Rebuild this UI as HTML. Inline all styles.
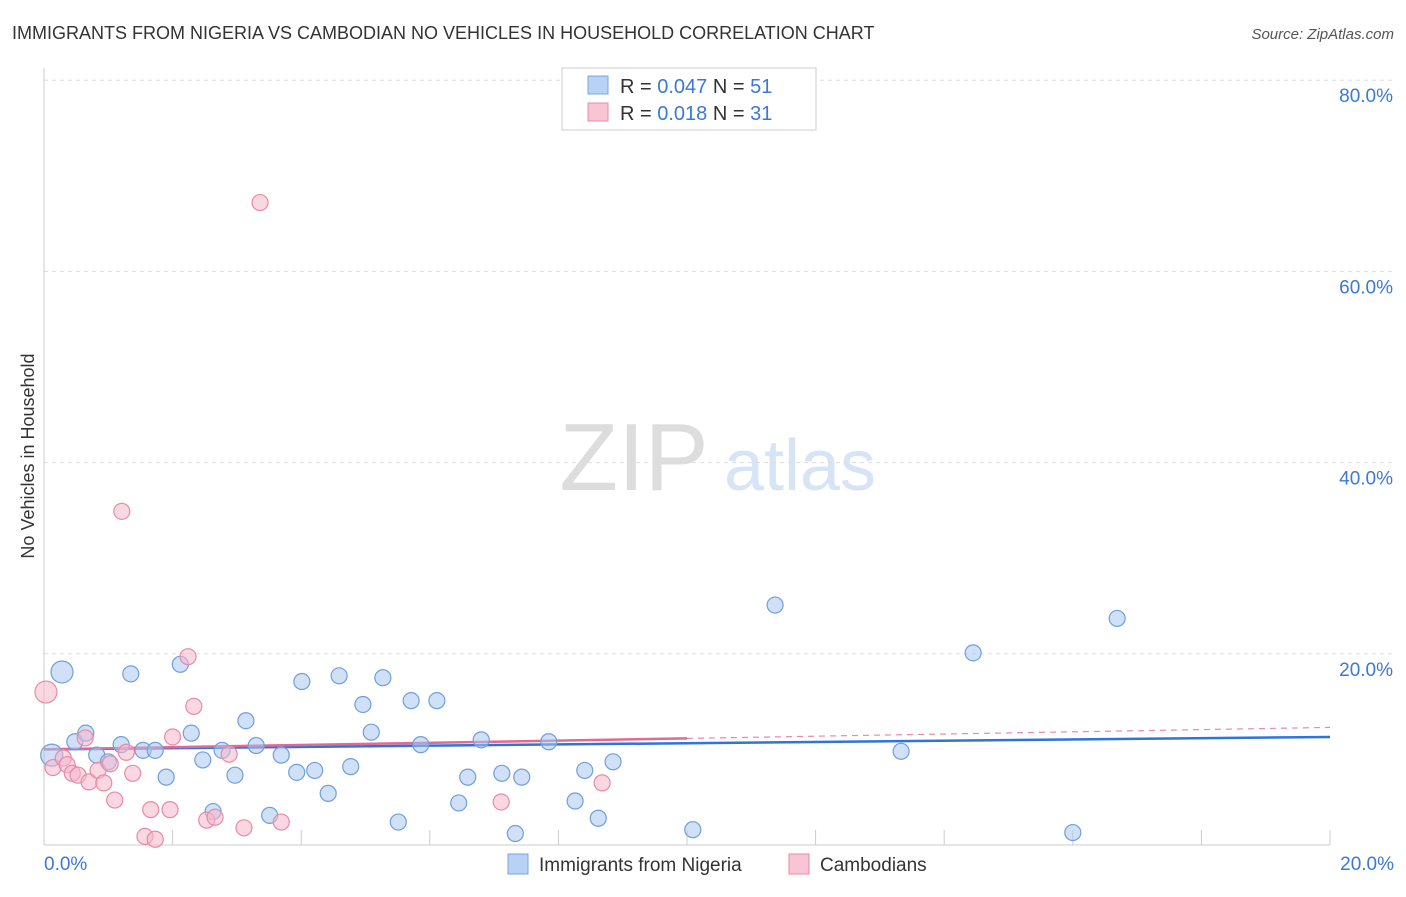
<!DOCTYPE html>
<html><head><meta charset="utf-8"><style>
body{margin:0;background:#fff;font-family:"Liberation Sans",sans-serif}
svg text{font-family:"Liberation Sans",sans-serif}
</style></head><body>
<svg id="c" width="1406" height="892">
<text x="12" y="39" font-size="18" fill="#333">IMMIGRANTS FROM NIGERIA VS CAMBODIAN NO VEHICLES IN HOUSEHOLD CORRELATION CHART</text>
<text x="1394" y="39" font-size="15" fill="#555" font-style="italic" text-anchor="end">Source: ZipAtlas.com</text>
<text x="34" y="456" font-size="18" fill="#333" text-anchor="middle" transform="rotate(-90 34 456)">No Vehicles in Household</text>
<g><text x="634" y="490" font-size="96" fill="#ddd" font-family="Liberation Serif" text-anchor="middle">ZIP</text><text x="800" y="490" font-size="72" fill="#d6e4f5" text-anchor="middle">atlas</text></g>
<g id="grid"></g><g id="axes"></g><g id="trend"></g><g id="pts"></g>
<g>
<rect x="562" y="68" width="254" height="62" fill="#fff" stroke="#ccc"/>
<rect x="588" y="76" width="20" height="18" fill="#b7d2f5" stroke="#7aa7e0"/>
<text x="620" y="93" font-size="20" fill="#333">R = <tspan fill="#3b78d8">0.047</tspan>   N = <tspan fill="#3b78d8">51</tspan></text>
<rect x="588" y="103" width="20" height="18" fill="#f9c4d4" stroke="#e88aa8"/>
<text x="620" y="120" font-size="20" fill="#333">R =  <tspan fill="#3b78d8">0.018</tspan>   N = <tspan fill="#3b78d8">31</tspan></text>
</g>
<g>
<rect x="508" y="854" width="20" height="20" fill="#b7d2f5" stroke="#7aa7e0"/>
<text x="539" y="871" font-size="19" fill="#333">Immigrants from Nigeria</text>
<rect x="789" y="854" width="20" height="20" fill="#f9c4d4" stroke="#e88aa8"/>
<text x="820" y="871" font-size="19" fill="#333">Cambodians</text>
</g>
</svg>
<script>
const yTicks=[20,40,60,80];
const xLabels=["0.0%","20.0%"];
const blueX=[.12,.28,.48,.65,.82,1.0,1.2,1.35,1.54,1.73,1.9,2.12,2.29,2.47,2.63,2.77,2.97,3.14,3.3,3.51,3.69,3.93,4.01,4.21,4.42,4.59,4.77,4.96,5.09,5.27,5.51,5.71,5.86,6.11,6.45,6.59,6.8,7.12,7.33,7.43,7.85,8.26,8.41,8.62,8.85,10.09,11.37,13.33,14.45,16.0,16.69];
const blueY=[9.4,18.1,10.8,11.7,9.4,8.7,10.5,17.9,9.9,9.9,7.1,18.9,11.7,8.9,3.5,9.9,7.3,13.0,10.4,3.1,9.4,7.6,17.1,7.8,5.4,17.7,8.2,14.7,11.8,17.5,2.4,15.1,10.5,15.1,4.4,7.1,11.0,7.5,1.2,7.1,10.8,4.6,7.8,2.8,8.7,1.6,25.1,9.8,20.1,1.3,23.7];
const pinkX=[.03,.14,.3,.36,.44,.53,.64,.7,.84,.93,1.03,1.1,1.21,1.28,1.38,1.57,1.66,1.73,1.96,2.0,2.24,2.33,2.53,2.66,2.88,3.11,3.36,3.69,7.11,8.68];
const pinkY=[16.0,8.1,9.1,8.4,7.5,7.3,11.2,6.6,7.8,6.5,8.5,4.7,34.9,9.7,7.5,0.9,3.7,0.6,3.7,11.3,19.7,14.5,2.6,2.9,9.5,1.8,67.2,2.4,4.5,6.5];
const blueTrend=[10.0,11.3];
const pinkTrend=[10.0,12.3];
const X=v=>44+v*64.3, Y=v=>845-v*9.56;
const NS="http://www.w3.org/2000/svg";
function mk(p,t,a){const e=document.createElementNS(NS,t);for(const k in a)e.setAttribute(k,a[k]);p.appendChild(e);return e;}
const grid=document.getElementById('grid'),axes=document.getElementById('axes'),trend=document.getElementById('trend'),pts=document.getElementById('pts');
yTicks.forEach(t=>{
 const l=mk(grid,'line',{x1:44,x2:1394,y1:Y(t),y2:Y(t),stroke:'#ddd','stroke-dasharray':'4,4'});
 
 
 const tx=mk(grid,'text',{x:1393,y:Y(t)+22,'font-size':19,fill:'#3b78d8','text-anchor':'end'});tx.textContent=t.toFixed(1)+'%';
 
 
});
const ya=mk(axes,'line',{x1:44,x2:44,y1:68,y2:845,stroke:'#ccc'});


const xa=mk(axes,'line',{x1:44,x2:1330,y1:845,y2:845,stroke:'#ccc'});


for(let i=0;i<=20;i+=2){const t=mk(axes,'line',{x1:X(i),x2:X(i),y1:830,y2:845,stroke:'#ccc'});
 
 }
[[0,'start',44],[20,'end',1394]].forEach((d,i)=>{const t=mk(axes,'text',{x:d[2],y:870,'font-size':19,fill:'#3b78d8','text-anchor':d[1]});t.textContent=xLabels[i];
 
 });
const bt=mk(trend,'line',{x1:X(0),y1:Y(blueTrend[0]),x2:X(20),y2:Y(blueTrend[1]),stroke:'#2f74d8','stroke-width':2.5});


const pm=pinkTrend[0]+(pinkTrend[1]-pinkTrend[0])*10/20;
const ps=mk(trend,'line',{x1:X(0),y1:Y(pinkTrend[0]),x2:X(10),y2:Y(pm),stroke:'#e06a92','stroke-width':2.5});


const pd=mk(trend,'line',{x1:X(10),y1:Y(pm),x2:X(20),y2:Y(pinkTrend[1]),stroke:'#e88aa8','stroke-width':1.2,'stroke-dasharray':'6,5'});


blueX.forEach((x,i)=>{const c=mk(pts,'circle',{cx:X(x),cy:Y(blueY[i]),r:i<2?11:8,fill:'rgba(167,199,240,0.55)',stroke:'#6f9fdc','stroke-width':1.2});
 
 });
pinkX.forEach((x,i)=>{const c=mk(pts,'circle',{cx:X(x),cy:Y(pinkY[i]),r:i==0?11:8,fill:'rgba(247,182,202,0.55)',stroke:'#e88aa8','stroke-width':1.2});
 
 });
</script>
</body></html>
